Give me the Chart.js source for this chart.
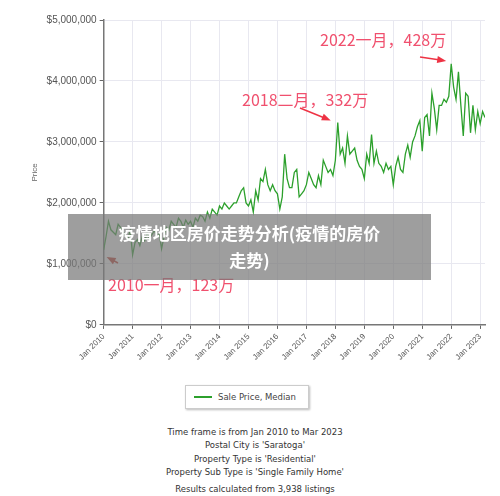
<!DOCTYPE html>
<html><head><meta charset="utf-8">
<script src="https://cdn.jsdelivr.net/npm/chart.js@4"></script>
<style>
body{margin:0;background:#fff;font-family:"DejaVu Sans",sans-serif;}
#wrap{position:relative;width:500px;height:370px;}
#legend{position:absolute;left:185px;top:385px;width:122px;height:22px;border:1px solid #ccc;box-shadow:1px 1px 2px #bbb;font-size:8.5px;color:#444;display:flex;align-items:center;}
#legend span.l{display:inline-block;width:18px;height:2px;background:#2ca02c;margin:0 6px 0 8px;}
#foot{position:absolute;top:426px;width:510px;text-align:center;font-size:8.5px;color:#333;line-height:13.3px;}
#ov{position:absolute;left:68px;top:214px;width:363px;height:66px;background:rgba(120,120,120,0.72);color:#fff;font-weight:bold;font-size:17px;text-align:center;line-height:27px;padding-top:5px;box-sizing:border-box;font-family:"Noto Sans CJK SC",sans-serif;}
</style></head><body>
<div id="wrap"><canvas id="c" width="500" height="365"></canvas></div>
<div id="legend"><span class="l"></span>Sale Price, Median</div>
<div id="foot">Time frame is from Jan 2010 to Mar 2023<br>Postal City is 'Saratoga'<br>Property Type is 'Residential'<br>Property Sub Type is 'Single Family Home'<br><span style="display:block;margin-top:4px">Results calculated from 3,938 listings</span></div>
<div id="ov">疫情地区房价走势分析(疫情的房价<br>走势)</div>
<script>
const startYear = 2010;
const tickYears = [2010,2011,2012,2013,2014,2015,2016,2017,2018,2019,2020,2021,2022,2023];
// monthly median sale price, thousands of dollars, Jan 2010 .. Mar 2023
const prices = [
1230,1450,1700,1560,1520,1480,1650,1600,1530,1470,1400,1550,
1150,1350,1400,1300,1450,1380,1500,1420,1480,1550,1450,1500,
1250,1450,1600,1550,1700,1650,1600,1750,1700,1600,1720,1650,
1700,1600,1750,1700,1800,1780,1700,1850,1750,1900,1850,1800,
1950,1900,2000,1950,1900,1950,2000,2000,2100,2200,2250,2000,
1950,2050,1850,2200,2050,2400,2350,2550,2300,2200,2300,2200,
2150,1900,2100,2800,2400,2250,2250,2500,2550,2100,2150,2200,
2300,2500,2400,2300,2250,2450,2300,2700,2600,2500,2550,2450,
2700,3320,2800,2900,2650,3100,2800,2850,2900,2700,2600,2550,
2400,2800,2650,3120,2650,2850,2650,2600,2500,2650,2550,2600,
2300,2600,2750,2550,2500,2800,2950,2750,3000,3100,3250,3350,
2850,3400,3450,3100,3800,3550,3200,3600,3600,3700,3650,3750,
4280,3900,3700,4150,3600,3100,3800,3750,3150,3600,3200,3500,
3300,3500,3400
];
const months = prices.map((_,i)=>i);
const yTicks = [0,1000000,2000000,3000000,4000000,5000000];
const annotations = [
 {idx:0, text:'2010一月，123万', tx:108, ty:285, ax:118, ay:263, dx:3, dy:7},
 {idx:97, text:'2018二月，332万', tx:242, ty:100, ax:300, ay:108, dx:-7, dy:-2},
 {idx:144, text:'2022一月，428万', tx:320, ty:40, ax:420, ay:57, dx:-5, dy:-3}
];
const annPlugin = {id:'ann', afterDatasetsDraw(ch){
  const c=ch.ctx, xs=ch.scales.x, ys=ch.scales.y;
  c.save();
  c.font='16px "Noto Sans CJK SC", sans-serif';
  c.textBaseline='middle';
  annotations.forEach(a=>{
    c.fillStyle='#f0506e';
    c.fillText(a.text,a.tx,a.ty);
    const px=xs.getPixelForValue(a.idx), py=ys.getPixelForValue(prices[a.idx]*1000);
    const tipx = px + a.dx, tipy = py + a.dy;
    const ang=Math.atan2(tipy-a.ay,tipx-a.ax);
    c.strokeStyle=a.idx===0?'#c0392b':'#ee3344'; c.fillStyle=c.strokeStyle; c.lineWidth=1.5;
    c.beginPath(); c.moveTo(a.ax,a.ay); c.lineTo(tipx-6*Math.cos(ang),tipy-6*Math.sin(ang)); c.stroke();
    c.beginPath(); c.moveTo(tipx,tipy);
    c.lineTo(tipx-9*Math.cos(ang)+3.5*Math.sin(ang), tipy-9*Math.sin(ang)-3.5*Math.cos(ang));
    c.lineTo(tipx-9*Math.cos(ang)-3.5*Math.sin(ang), tipy-9*Math.sin(ang)+3.5*Math.cos(ang));
    c.closePath(); c.fill();
  });
  c.restore();
}};
new Chart(document.getElementById('c'),{
  type:'line',
  data:{datasets:[{data:months.map((m,i)=>({x:m,y:prices[i]*1000})),borderColor:'#2ca02c',borderWidth:1.3,pointRadius:0,tension:0}]},
  options:{responsive:false,animation:false,
    layout:{padding:{top:20,right:15,left:26}},
    plugins:{legend:{display:false},tooltip:{enabled:false}},
    scales:{
      x:{type:'linear',min:0,max:158,
        afterBuildTicks(s){s.ticks=tickYears.map(y=>({value:(y-startYear)*12}));},
        ticks:{maxRotation:45,minRotation:45,color:'#555',font:{size:8},callback:v=>'Jan '+(startYear+v/12)},
        grid:{color:'#e8e8f0',tickLength:4,tickColor:'#666'},border:{color:'#777',width:1.5}},
      y:{min:0,max:5000000,
        afterBuildTicks(s){s.ticks=yTicks.map(v=>({value:v}));},
        title:{display:true,text:'Price',color:'#666',font:{size:8}},
        ticks:{color:'#555',font:{size:10},callback:v=>'$'+v.toLocaleString('en-US')},
        grid:{color:'#e8e8f0',tickLength:4,tickColor:'#666'},border:{color:'#777',width:1.5}}
    }},
  plugins:[annPlugin]
});
</script></body></html>
